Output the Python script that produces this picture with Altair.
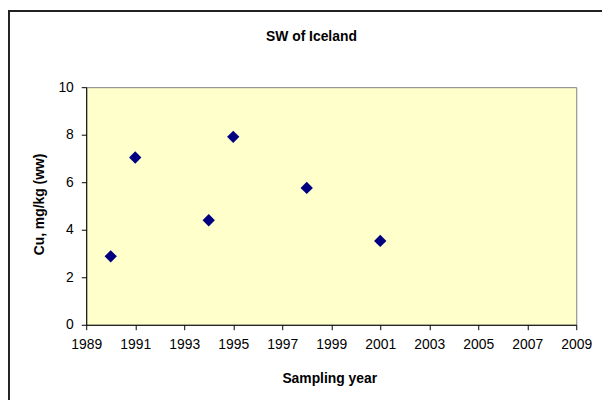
import altair as alt
import pandas as pd

# values
years = [1990, 1991, 1994, 1995, 1998, 2001]
cu = [2.88, 7.04, 4.40, 7.91, 5.76, 3.53]
x_ticks = list(range(1989, 2010, 2))
y_ticks = [0, 2, 4, 6, 8, 10]
chart_title = ["SW of Iceland"]

df = pd.DataFrame({"year": years, "cu": cu})
FONT = "Liberation Sans"

points = (
    alt.Chart(df)
    .mark_point(shape="diamond", filled=True, size=155, color="#000080", opacity=1)
    .encode(
        x=alt.X(
            "year:Q",
            scale=alt.Scale(domain=[1989, 2009], nice=False, zero=False),
            axis=alt.Axis(
                values=x_ticks, format="d", title="Sampling year",
                tickSize=5, labelPadding=7.5, labelFlush=False,
                titleX=245.5, titleY=58.5, titleBaseline="alphabetic",
            ),
        ),
        y=alt.Y(
            "cu:Q",
            scale=alt.Scale(domain=[0, 10], nice=False),
            axis=alt.Axis(
                values=y_ticks, title="Cu, mg/kg (ww)",
                tickSize=5, labelPadding=8, labelFlush=False,
                titleX=-47, titleY=118, titleAngle=270,
                titleAlign="center", titleBaseline="middle",
            ),
        ),
    )
)

# chart title as a text mark (the outer frame would push a real title off the page)
title = alt.Chart(pd.DataFrame({"t": chart_title})).mark_text(
    font=FONT, fontSize=14, fontWeight="bold", color="black",
    align="center", baseline="alphabetic",
).encode(text="t:N", x=alt.value(227.5), y=alt.value(-46.5))

# outer chart-area frame (left and top edges)
one = pd.DataFrame({"k": [0]})
frame_left = alt.Chart(one).mark_rule(color="#222", strokeWidth=2).encode(
    x=alt.value(-78), y=alt.value(-78), y2=alt.value(320)
)
frame_top = alt.Chart(one).mark_rule(color="#222", strokeWidth=2).encode(
    x=alt.value(-78), x2=alt.value(530), y=alt.value(-77)
)

chart = (
    alt.layer(frame_left, frame_top, title, points)
    .properties(
        width=495,
        height=240,
        autosize=alt.AutoSizeParams(type="none"),
        padding={"left": 79, "top": 78, "right": 26, "bottom": 74},
    )
    .configure(background="white")
    .configure_view(fill="#FFFFCC", stroke="#808080", strokeWidth=1)
    .configure_axis(
        grid=False,
        domainColor="black", domainWidth=1,
        tickColor="black", tickWidth=1,
        labelFont=FONT, labelFontSize=14, labelColor="black",
        titleFont=FONT, titleFontSize=14, titleFontWeight="bold", titleColor="black",
    )
)

chart.save("out.html", embed_options={"renderer": "svg", "actions": False})
